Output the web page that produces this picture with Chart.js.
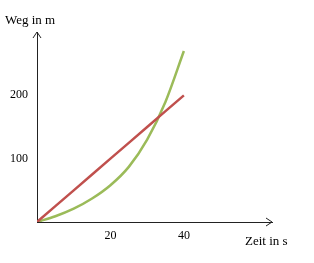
<!DOCTYPE html>
<html>
<head>
<meta charset="utf-8">
<script src="https://cdn.jsdelivr.net/npm/chart.js@4"></script>
<style>
  html, body { margin: 0; padding: 0; background: #fff; }
  #wrap { width: 314px; height: 263px; }
</style>
</head>
<body>
<div id="wrap"><canvas id="myChart" width="314" height="263"></canvas></div>
<script>
var zeit = [0, 5, 10, 15, 20, 25, 30, 35, 40];
var wegRot = [0, 25, 50, 75, 100, 125, 150, 175, 200];
var wegGruen = [0, 9, 21, 37, 58, 87, 130, 190, 270];
var xTicks = [20, 40];
var yTicks = [100, 200];

function pts(ys) {
    return zeit.map(function (x, i) { return {x: x, y: ys[i]}; });
}

var arrows = {
    id: 'arrows',
    afterDraw: function (chart) {
        var c = chart.ctx, a = chart.chartArea;
        c.save();
        c.strokeStyle = '#222';
        c.lineWidth = 1;
        c.beginPath();
        c.moveTo(a.left - 4, a.top + 6); c.lineTo(a.left, a.top); c.lineTo(a.left + 4, a.top + 6);
        c.moveTo(a.right - 6, a.bottom - 4); c.lineTo(a.right, a.bottom); c.lineTo(a.right - 6, a.bottom + 4);
        c.stroke();
        c.fillStyle = '#000';
        c.font = '13px "Liberation Serif"';
        c.textBaseline = 'alphabetic';
        c.textAlign = 'left';
        c.fillText('Weg in m', 5, 24);
        c.fillText('Zeit in s', 245, 245);
        c.restore();
    }
};

var ctx = document.getElementById('myChart').getContext('2d');
var myChart = new Chart(ctx, {
    type: 'line',
    data: {
        datasets: [
            {
                data: pts(wegRot),
                borderColor: "#c0504d",
                borderWidth: 2.5,
                pointRadius: 0,
                fill: false
            },
            {
                data: pts(wegGruen),
                borderColor: "#9bbb59",
                borderWidth: 2.5,
                pointRadius: 0,
                cubicInterpolationMode: 'monotone',
                fill: false
            }
        ]
    },
    options: {
        responsive: false,
        animation: false,
        layout: { padding: { top: 32, right: 42, left: 0, bottom: 0 } },
        plugins: { legend: { display: false }, tooltip: { enabled: false } },
        scales: {
            x: {
                type: 'linear',
                min: 0,
                max: 64,
                grid: { display: false, drawTicks: false },
                border: { display: true, color: '#222', width: 1 },
                afterBuildTicks: function (s) { s.ticks = xTicks.map(function (v) { return {value: v}; }); },
                afterFit: function (s) { s.height = 41; },
                ticks: { padding: 7, color: '#000', font: { family: 'Liberation Serif', size: 12 } }
            },
            y: {
                min: 0,
                max: 300,
                grid: { display: false, drawTicks: false },
                border: { display: true, color: '#222', width: 1 },
                afterBuildTicks: function (s) { s.ticks = yTicks.map(function (v) { return {value: v}; }); },
                afterFit: function (s) { s.width = 37; },
                ticks: { padding: 9, color: '#000', font: { family: 'Liberation Serif', size: 12 } }
            }
        }
    },
    plugins: [arrows]
});
</script>
</body>
</html>
